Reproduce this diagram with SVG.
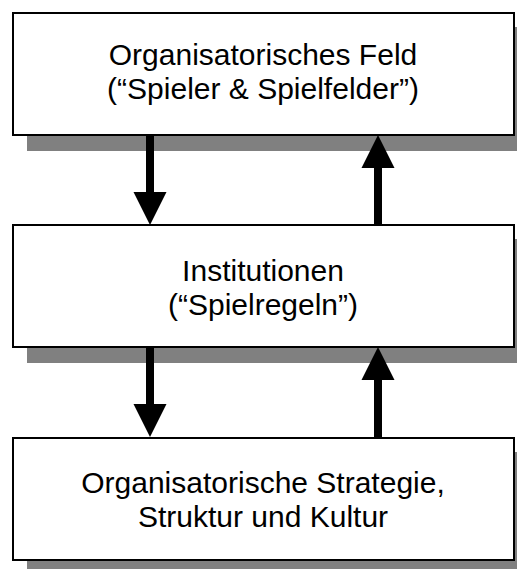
<svg xmlns="http://www.w3.org/2000/svg" width="517" height="569" viewBox="0 0 517 569">
<style>
.shadow{fill:#808080;stroke:none}
.box{fill:#ffffff;stroke:#000000;stroke-width:2}
.lbl{font-family:"Liberation Sans",Arial,sans-serif;font-size:30px;fill:#000000;text-anchor:middle}
.arrow{fill:#000000;stroke:none}
</style>
<rect width="517" height="569" fill="#ffffff"/>
<g id="node-feld">
<rect class="shadow" x="27" y="27" width="502" height="124"/>
<rect class="box" x="13" y="13" width="501" height="122"/>
<text class="lbl" x="263" y="65">Organisatorisches Feld</text>
<text class="lbl" x="263" y="99">(“Spieler &amp; Spielfelder”)</text>
</g>
<g id="node-institutionen">
<rect class="shadow" x="27" y="239" width="502" height="124"/>
<rect class="box" x="13" y="225" width="501" height="122"/>
<text class="lbl" x="263" y="281">Institutionen</text>
<text class="lbl" x="263" y="315">(“Spielregeln”)</text>
</g>
<g id="node-strategie">
<rect class="shadow" x="27" y="452" width="502" height="124"/>
<rect class="box" x="13" y="438" width="501" height="122"/>
<text class="lbl" x="263" y="493">Organisatorische Strategie,</text>
<text class="lbl" x="263" y="527">Struktur und Kultur</text>
</g>
<g id="connectors">
<polygon class="arrow" points="146,136 154,136 154,192 166.5,192 150,225 133.5,192 146,192"/>
<polygon class="arrow" points="378,135 394.5,168 382,168 382,225 374,225 374,168 361.5,168"/>
<polygon class="arrow" points="146,348 154,348 154,404 166.5,404 150,437 133.5,404 146,404"/>
<polygon class="arrow" points="378,347 394.5,380 382,380 382,437 374,437 374,380 361.5,380"/>
</g>
</svg>
